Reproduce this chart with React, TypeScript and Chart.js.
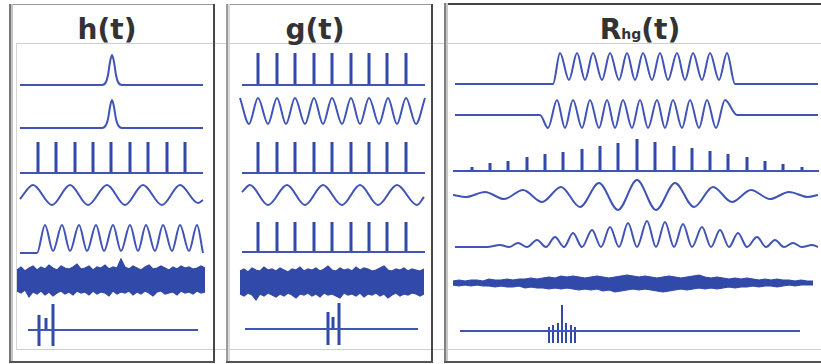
import React, { useEffect, useRef } from "react";
import { Chart, registerables } from "chart.js";
Chart.register(...registerables);

// ================= DATA =================
// ---- panel h(t) : time t (samples) ----
const H_PULSE_T = [0, 82, 86, 88, 90, 92, 94, 96, 98, 102, 183];
const H_PULSE1_V = [0, 0, 3, 10, 23, 30, 23, 10, 3, 0, 0];
const H_PULSE2_V = [0, 0, 3, 9, 21, 28, 21, 9, 3, 0, 0];
const H_COMB_T = [18, 36, 55, 73, 91, 110, 128, 147, 165];
const H_COMB_V = [31, 31, 31, 31, 31, 31, 31, 31, 31];
const H_SINE_T = [0, 13, 32, 50, 68, 87, 105, 123, 142, 160, 178, 183];
const H_SINE_V = [-4, 10, -10, 10, -10, 10, -10, 10, -10, 10, -8, -5];
const H_TRAIN_PEAK_T = [25, 42, 59, 76, 93, 110, 126, 143, 160, 177];
const H_TRAIN_PEAK_V = [28, 28, 28, 28, 28, 28, 28, 28, 28, 28];
const H_TRAIN_DIP_T = [0, 17, 33, 50, 67, 84, 101, 118, 135, 152, 169, 183];
const H_TRAIN_DIP_V = [0, 0, 2, 2, 2, 2, 2, 2, 2, 2, 2, 0];
const H_NOISE_HI = [10, 13, 9, 12, 14, 10, 13, 11, 15, 12, 10, 14, 12, 11, 13, 16, 11, 12, 14, 10, 13, 12, 15, 11, 13, 12, 21, 13, 11, 14, 12, 10, 13, 15, 11, 12, 14, 12, 10, 13, 11, 14, 12, 13, 11, 12, 14, 12];
const H_NOISE_LO = [-11, -13, -10, -17, -12, -14, -11, -15, -12, -16, -13, -11, -14, -12, -15, -11, -13, -12, -15, -11, -14, -12, -13, -16, -11, -14, -12, -13, -11, -15, -12, -14, -11, -13, -16, -12, -11, -14, -13, -12, -15, -11, -13, -12, -14, -11, -13, -12];
const H_LAST_T = [8, 178];
const H_PAIR_T = [19, 26, 33];
const H_PAIR_HI = [15, 12, 26];
const H_PAIR_LO = [-16, 0, -16];

// ---- panel g(t) ----
const G_COMB_T = [18, 37, 55, 74, 92, 111, 129, 147, 166];
const G_COMB1_V = [32, 32, 32, 32, 32, 32, 32, 32, 32];
const G_COMB3_V = [31, 31, 31, 31, 31, 31, 31, 31, 31];
const G_COMB5_V = [30, 30, 30, 30, 30, 30, 30, 30, 30];
const G_FAST_T = [0, 9, 18, 28, 37, 46, 55, 65, 74, 83, 92, 102, 111, 120, 129, 139, 148, 157, 166, 176, 185];
const G_FAST_V = [13, -13, 13, -13, 13, -13, 13, -13, 13, -13, 13, -13, 13, -13, 13, -13, 13, -13, 13, -13, 13];
const G_SLOW_T = [2, 10, 28, 47, 65, 83, 102, 120, 138, 157, 177, 184];
const G_SLOW_V = [3, 10, -10, 10, -10, 10, -10, 10, -10, 10, -10, -2];
const G_NOISE_HI = [11, 13, 10, 14, 12, 11, 15, 12, 13, 11, 14, 12, 10, 13, 12, 15, 11, 13, 12, 14, 11, 13, 16, 12, 11, 14, 12, 13, 11, 15, 12, 14, 13, 11, 12, 14, 16, 12, 11, 13, 12, 14, 11, 13, 12, 11, 13];
const G_NOISE_LO = [-12, -14, -11, -13, -18, -12, -14, -11, -13, -15, -12, -14, -11, -13, -16, -12, -13, -11, -14, -12, -15, -11, -13, -12, -14, -16, -11, -13, -12, -14, -11, -15, -12, -13, -11, -14, -12, -16, -13, -11, -14, -12, -13, -11, -12, -14, -12];
const G_LAST_T = [5, 178];
const G_PAIR_T = [88, 93, 99];
const G_PAIR_HI = [17, 12, 26];
const G_PAIR_LO = [-16, 0, -16];

// ---- panel R_hg(t) : lag tau ----
const R_BURST_T = [-182, -84, -77, -68, -60, -52, -44, -35, -27, -18, -10, -2, 6, 15, 23, 31, 40, 48, 56, 65, 73, 82, 90, 98, 181];
const R_BURST_V = [0, 0, 31, 4, 31, 4, 31, 4, 31, 4, 31, 4, 31, 4, 31, 4, 31, 4, 31, 4, 31, 4, 31, 0, 0];
const R_OSC_T = [-182, -97, -89, -80, -72, -64, -55, -47, -38, -30, -22, -14, -5, 3, 11, 20, 28, 36, 45, 53, 62, 70, 79, 88, 100, 181];
const R_OSC_V = [0, 0, -13, 15, -13, 15, -13, 15, -13, 15, -13, 15, -13, 15, -13, 15, -13, 15, -13, 15, -13, 15, -13, 15, 0, 0];
const R_COMB_T = [-165, -147, -129, -110, -92, -74, -55, -37, -19, 0, 18, 37, 55, 73, 91, 110, 128, 146, 165];
const R_COMB_V = [4, 8, 10, 14, 17, 19, 22, 25, 28, 32, 29, 25, 23, 20, 17, 14, 10, 7, 4];
const R_WAVE_T = [-184, -171, -152, -133, -114, -95, -76, -57, -38, -19, 0, 19, 38, 57, 76, 95, 114, 133, 152, 171, 181];
const R_WAVE_V = [0, -2, 3, -4, 5, -7, 8, -12, 12, -15, 15, -15, 12, -12, 8, -7, 5, -4, 3, -2, 0];
const R_TRAIN_PEAK_T = [-137, -119, -100, -82, -64, -45, -27, -9, 10, 28, 46, 65, 83, 101, 120, 138, 156, 175];
const R_TRAIN_PEAK_V = [2, 4, 7, 10, 14, 17, 20, 24, 26, 25, 23, 20, 17, 14, 10, 7, 4, 2];
const R_TRAIN_DIP_T = [-182, -150, -128, -110, -91, -73, -55, -36, -18, 0, 19, 37, 55, 74, 92, 110, 129, 147, 165, 181];
const R_TRAIN_DIP_V = [0, 0, 0, 0, 0, 0, 0, 0, 0, 0, 0, 0, 0, 0, 0, 0, 0, 0, 0, 0];
const R_NOISE_HI = [2, 3, 2, 3, 3, 2, 4, 3, 3, 4, 3, 4, 4, 5, 4, 5, 6, 5, 7, 6, 7, 6, 5, 6, 7, 6, 5, 6, 7, 8, 7, 6, 7, 6, 5, 6, 7, 6, 5, 6, 7, 8, 6, 5, 6, 5, 4, 5, 4, 5, 4, 3, 4, 3, 4, 3, 3, 2, 3, 2, 2];
const R_NOISE_LO = [-2, -3, -2, -3, -2, -3, -3, -4, -3, -4, -4, -3, -5, -4, -5, -5, -6, -5, -6, -5, -6, -7, -6, -7, -6, -8, -7, -9, -8, -7, -6, -7, -6, -7, -8, -9, -8, -7, -6, -7, -6, -5, -6, -5, -6, -5, -4, -5, -4, -4, -3, -4, -3, -3, -4, -3, -2, -3, -2, -2, -2];
const R_LAST_T = [-177, 163];
const R_CLUSTER_T = [-88, -84, -79, -75, -71, -66, -62];
const R_CLUSTER_HI = [4, 6, 8, 26, 8, 6, 4];
const R_CLUSTER_LO = [-12, -12, -12, -12, -12, -12, -12];

// ================= LAYOUT =================
const PLOT_TOP = 43;
const PLOT_BOTTOM = 349;
const ROWS_H = [85, 128, 173, 195, 253, 280, 330];
const ROWS_G = [85, 111, 173, 195, 252, 282, 329];
const ROWS_R = [84, 115, 171, 195, 247, 283, 331];

const BLUE = "#3f54b6";
const BLUE_DARK = "#3149a8";

type P = { x: number; y: number | null };
const lvl = (px: number) => PLOT_BOTTOM - px;
const pts = (ts: number[], vs: number[], base: number): P[] =>
  ts.map((t, i) => ({ x: t, y: base + vs[i] }));
const merged = (aT: number[], aV: number[], bT: number[], bV: number[], base: number): P[] =>
  [...pts(aT, aV, base), ...pts(bT, bV, base)].sort((p, q) => p.x - q.x);
const spikePts = (ts: number[], his: number[], los: number[] | null, base: number): P[] => {
  const out: P[] = [];
  ts.forEach((t, i) => {
    out.push({ x: t, y: base + (los ? los[i] : 0) }, { x: t, y: base + his[i] }, { x: t, y: null });
  });
  return out;
};

const smooth = (data: P[], w = 2) => ({
  type: "line", data, borderColor: BLUE, borderWidth: w, pointRadius: 0,
  cubicInterpolationMode: "monotone", fill: false,
});
const straight = (data: P[], w = 1.8) => ({
  type: "line", data, borderColor: BLUE, borderWidth: w, pointRadius: 0, tension: 0, fill: false,
});
const spikes = (data: P[], w = 3) => ({
  type: "line", data, borderColor: BLUE_DARK, borderWidth: w, pointRadius: 0, tension: 0,
  spanGaps: false, borderCapStyle: "butt", fill: false,
});
const band = (hi: number[], lo: number[], t0: number, step: number, base: number) => [
  {
    type: "line", data: hi.map((v, i) => ({ x: t0 + i * step, y: base + v })),
    borderColor: BLUE_DARK, borderWidth: 1.2, pointRadius: 0, tension: 0, fill: false,
  },
  {
    type: "line", data: lo.map((v, i) => ({ x: t0 + i * step, y: base + v })),
    borderColor: BLUE_DARK, borderWidth: 1.2, pointRadius: 0, tension: 0,
    fill: "-1", backgroundColor: BLUE_DARK,
  },
];

function datasetsH() {
  const B = ROWS_H.map(lvl);
  return [
    smooth(pts(H_PULSE_T, H_PULSE1_V, B[0])),
    smooth(pts(H_PULSE_T, H_PULSE2_V, B[1])),
    straight([{ x: 0, y: B[2] }, { x: 183, y: B[2] }]),
    spikes(spikePts(H_COMB_T, H_COMB_V, null, B[2])),
    smooth(pts(H_SINE_T, H_SINE_V, B[3])),
    smooth(merged(H_TRAIN_PEAK_T, H_TRAIN_PEAK_V, H_TRAIN_DIP_T, H_TRAIN_DIP_V, B[4])),
    ...band(H_NOISE_HI, H_NOISE_LO, -3, 4, B[5]),
    straight(H_LAST_T.map((t) => ({ x: t, y: B[6] }))),
    spikes(spikePts(H_PAIR_T, H_PAIR_HI, H_PAIR_LO, B[6])),
  ];
}

function datasetsG() {
  const B = ROWS_G.map(lvl);
  return [
    straight([{ x: 2, y: B[0] }, { x: 185, y: B[0] }]),
    spikes(spikePts(G_COMB_T, G_COMB1_V, null, B[0])),
    smooth(pts(G_FAST_T, G_FAST_V, B[1])),
    straight([{ x: 2, y: B[2] }, { x: 185, y: B[2] }]),
    spikes(spikePts(G_COMB_T, G_COMB3_V, null, B[2])),
    smooth(pts(G_SLOW_T, G_SLOW_V, B[3])),
    straight([{ x: 2, y: B[4] }, { x: 185, y: B[4] }]),
    spikes(spikePts(G_COMB_T, G_COMB5_V, null, B[4])),
    ...band(G_NOISE_HI, G_NOISE_LO, 0, 4, B[5]),
    straight(G_LAST_T.map((t) => ({ x: t, y: B[6] }))),
    spikes(spikePts(G_PAIR_T, G_PAIR_HI, G_PAIR_LO, B[6])),
  ];
}

function datasetsR() {
  const B = ROWS_R.map(lvl);
  return [
    smooth(pts(R_BURST_T, R_BURST_V, B[0])),
    smooth(pts(R_OSC_T, R_OSC_V, B[1])),
    straight([{ x: -184, y: B[2] }, { x: 182, y: B[2] }]),
    spikes(spikePts(R_COMB_T, R_COMB_V, null, B[2])),
    smooth(pts(R_WAVE_T, R_WAVE_V, B[3])),
    smooth(merged(R_TRAIN_PEAK_T, R_TRAIN_PEAK_V, R_TRAIN_DIP_T, R_TRAIN_DIP_V, B[4])),
    ...band(R_NOISE_HI, R_NOISE_LO, -184, 6, B[5]),
    straight(R_LAST_T.map((t) => ({ x: t, y: B[6] }))),
    spikes(spikePts(R_CLUSTER_T, R_CLUSTER_HI, R_CLUSTER_LO, B[6]), 2),
  ];
}

function Strip(props: { left: number; width: number; xMin: number; xMax: number; build: () => any[] }) {
  const ref = useRef<HTMLCanvasElement>(null);
  const height = PLOT_BOTTOM - PLOT_TOP;
  useEffect(() => {
    const chart = new Chart(ref.current as HTMLCanvasElement, {
      type: "line",
      data: { datasets: props.build() as any },
      options: {
        animation: false,
        responsive: false,
        devicePixelRatio: 1,
        events: [],
        layout: { padding: 0 },
        plugins: { legend: { display: false }, tooltip: { enabled: false } },
        scales: {
          x: { type: "linear", display: false, min: props.xMin, max: props.xMax },
          y: { type: "linear", display: false, min: 0, max: height },
        },
      } as any,
    });
    return () => chart.destroy();
  }, []);
  return (
    <canvas
      ref={ref}
      width={props.width}
      height={height}
      style={{ position: "absolute", left: props.left, top: PLOT_TOP, width: props.width, height }}
    />
  );
}

const Line = (p: { l: number; t: number; w: number; h: number; c: string }) => (
  <div style={{ position: "absolute", left: p.l, top: p.t, width: p.w, height: p.h, background: p.c }} />
);

const titleStyle: React.CSSProperties = {
  position: "absolute",
  top: 16,
  height: 30,
  fontFamily: "'DejaVu Sans', Verdana, sans-serif",
  fontWeight: "bold",
  fontSize: 28,
  lineHeight: "28px",
  color: "#333",
  textAlign: "center",
  whiteSpace: "nowrap",
};

export default function App() {
  return (
    <div style={{ position: "absolute", left: 0, top: 0, width: 821, height: 364, background: "#fff", overflow: "hidden" }}>
      {/* faint inner frame lines */}
      <Line l={16} t={43} w={805} h={1} c="#cfcfcf" />
      <Line l={16} t={349} w={805} h={1} c="#cfcfcf" />
      <Line l={16} t={43} w={1} h={306} c="#d6d6d6" />

      {/* panel 1 frame */}
      <Line l={10} t={4} w={204} h={1} c="#9a9a9a" />
      <Line l={9} t={4} w={2} h={359} c="#777" />
      <Line l={11} t={4} w={2} h={359} c="#c4c4c4" />
      <Line l={213} t={4} w={2} h={359} c="#474747" />
      <Line l={9} t={361} w={206} h={2} c="#555" />

      {/* panel 2 frame */}
      <Line l={227} t={4} w={206} h={1} c="#9a9a9a" />
      <Line l={226} t={4} w={2} h={359} c="#9c9c9c" />
      <Line l={228} t={4} w={2} h={359} c="#d8d8d8" />
      <Line l={431} t={4} w={2} h={359} c="#474747" />
      <Line l={226} t={361} w={207} h={2} c="#555" />

      {/* panel 3 frame */}
      <Line l={445} t={3} w={376} h={2} c="#444" />
      <Line l={444} t={3} w={2} h={360} c="#808080" />
      <Line l={446} t={3} w={2} h={360} c="#c8c8c8" />
      <Line l={444} t={361} w={377} h={2} c="#555" />

      <div style={{ ...titleStyle, left: 47, width: 120 }}>h(t)</div>
      <div style={{ ...titleStyle, left: 255, width: 120 }}>g(t)</div>
      <div style={{ ...titleStyle, left: 560, width: 160 }}>
        R<span style={{ fontSize: 14, letterSpacing: 0 }}>hg</span>(t)
      </div>

      <Strip left={16} width={196} xMin={-4} xMax={192} build={datasetsH} />
      <Strip left={232} width={198} xMin={-8} xMax={190} build={datasetsG} />
      <Strip left={450} width={371} xMin={-187} xMax={184} build={datasetsR} />
    </div>
  );
}
